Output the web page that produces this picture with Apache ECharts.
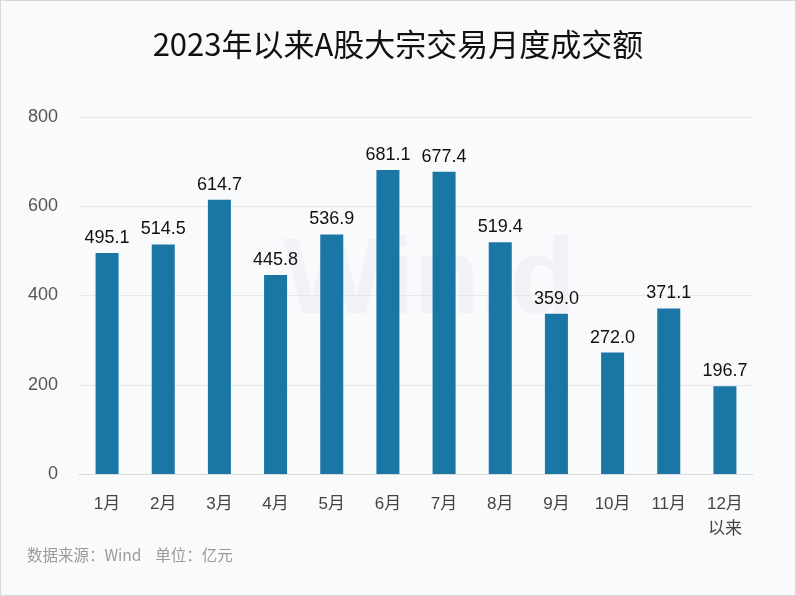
<!DOCTYPE html>
<html><head><meta charset="utf-8">
<script src="https://cdn.jsdelivr.net/npm/echarts@6/dist/echarts.min.js"></script>
<style>html,body{margin:0;padding:0;background:#fff;}#c{width:794px;height:594px;border:1px solid #d8d8d8;background:#f9fafc;}</style>
</head><body><div id="c"></div>
<script>
const categories = ['1月','2月','3月','4月','5月','6月','7月','8月','9月','10月','11月','12月\n以来'];
const values = [495.1, 514.5, 614.7, 445.8, 536.9, 681.1, 677.4, 519.4, 359.0, 272.0, 371.1, 196.7];
const yTicks = [0, 200, 400, 600, 800];
const chart = echarts.init(document.getElementById('c'));
const font = '"Liberation Sans", "Noto Sans CJK SC", sans-serif';
const cjk = '"Noto Sans CJK SC", sans-serif';
chart.setOption({
  backgroundColor: '#f9fafc',
  title: {text: '2023年以来A股大宗交易月度成交额', left: 'center', top: 23,
    textStyle: {fontFamily: cjk, fontSize: 31, fontWeight: 'normal', color: '#111'}},
  graphic: [
    {type: 'text', left: 26, top: 546, style: {text: '数据来源：Wind    单位：亿元', fontFamily: cjk, fontSize: 15.5, fill: '#9a9a9a'}},
    {type: 'text', left: 282, top: 228, z: 0, style: {text: 'Win.d', fontFamily: 'Liberation Sans, Arial', fontWeight: 'bold', fontSize: 108, fill: 'rgba(200,205,212,0.16)'}}
  ],
  grid: {left: 78, right: 42, top: 116, bottom: 121},
  xAxis: {type: 'category', data: categories,
    axisLine: {lineStyle: {color: '#dcdcdc'}}, axisTick: {show: false},
    axisLabel: {color: '#444', fontSize: 17, fontFamily: font, margin: 18, lineHeight: 25}},
  yAxis: {type: 'value', min: 0, max: 800, interval: 200,
    axisLine: {show: false}, axisTick: {show: false},
    splitLine: {lineStyle: {color: '#e6e8ea'}},
    axisLabel: {color: '#555', fontSize: 18, fontFamily: font, margin: 21,
      formatter: v => yTicks.includes(v) ? String(v) : ''}},
  series: [{type: 'bar', data: values, barWidth: 23,
    itemStyle: {color: '#1a76a5'},
    label: {show: true, position: 'top', distance: 6, color: '#111', fontSize: 18, fontFamily: font,
      formatter: p => p.value.toFixed(1)}}]
});
</script></body></html>
